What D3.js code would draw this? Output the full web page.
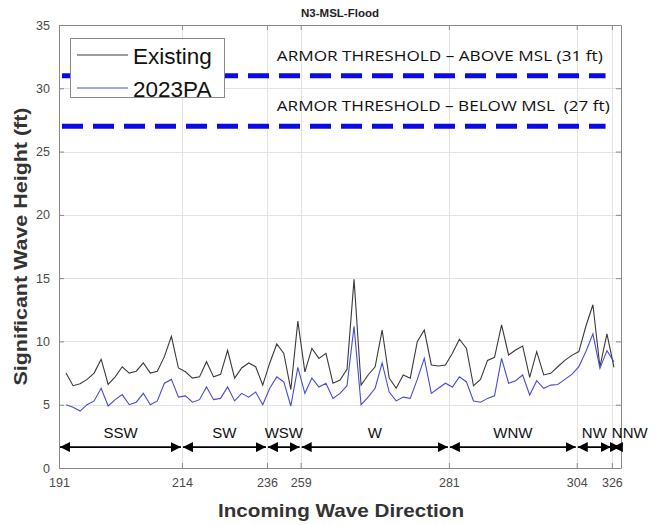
<!DOCTYPE html>
<html>
<head>
<meta charset="utf-8">
<script src="https://cdn.jsdelivr.net/npm/d3@7"></script>
<style>
  html, body { margin: 0; padding: 0; background: #fff; }
  svg { display: block; font-family: "Liberation Sans", Arial, sans-serif; }
</style>
</head>
<body>
<svg id="chart" width="655" height="525"></svg>
<script>
// Significant wave height per incoming-direction case (index 1..79)
const existing = [
  7.5, 6.5, 6.65, 7.0, 7.5, 8.6, 6.6, 7.2, 8.0, 7.5,
  7.65, 8.3, 7.5, 7.65, 8.8, 10.4, 7.9, 7.6, 7.1, 7.2,
  8.4, 7.2, 7.4, 9.3, 7.1, 7.9, 8.3, 8.0, 6.55, 8.3,
  9.8, 9.05, 6.2, 11.6, 7.6, 9.45, 8.66, 9.06, 6.7, 6.95,
  7.8, 14.9, 6.55, 7.35, 8.0, 10.9, 7.1, 6.3, 7.35, 7.1,
  9.98, 10.9, 8.14, 8.06, 8.14, 9.06, 10.17, 9.45, 6.5, 7.0,
  8.5, 8.74, 11.3, 8.93, 9.32, 9.64, 7.16, 9.19, 7.35, 7.48,
  8.0, 8.5, 8.9, 9.2, 11.2, 12.9, 8.0, 10.6, 7.95
];
const pa2023 = [
  5.0, 4.8, 4.5, 5.0, 5.3, 6.3, 4.9, 5.4, 5.8, 5.0,
  5.2, 5.9, 5.0, 5.3, 6.7, 7.0, 5.6, 5.7, 5.2, 5.4,
  6.4, 5.4, 5.5, 6.4, 5.3, 5.9, 5.6, 6.0, 5.0, 6.3,
  7.2, 6.8, 4.9, 7.95, 5.9, 7.1, 6.4, 6.7, 5.5, 5.9,
  6.5, 11.2, 5.0, 5.6, 6.3, 8.3, 6.0, 5.3, 5.6, 5.5,
  7.0, 8.66, 5.9, 6.3, 6.7, 6.4, 7.2, 6.8, 5.3, 5.2,
  5.5, 5.7, 8.66, 6.7, 6.9, 7.35, 5.77, 6.9, 6.3, 6.55,
  6.6, 7.0, 7.4, 8.0, 9.2, 10.6, 7.87, 9.27, 8.4
];

// Direction tick labels and the case index where each sits
const directionLabels = ["191", "214", "236", "259", "281", "304", "326"];
const directionIndex = [0, 17.5, 29.6, 34.4, 55.5, 73.7, 78.7];
const caseCount = 80;

// Compass sectors spanning consecutive direction ticks
const sectorNames = ["SSW", "SW", "WSW", "W", "WNW", "NW", "NNW"];

// Armor thresholds (ft)
const thresholds = [31, 27];
const thresholdLabels = [
  "ARMOR THRESHOLD \u2013 ABOVE MSL (31 ft)",
  "ARMOR THRESHOLD \u2013 BELOW MSL  (27 ft)"
];

const yTicks = [0, 5, 10, 15, 20, 25, 30, 35];

const svg = d3.select("#chart");
const plotL = 59, plotR = 621, plotT = 25, plotB = 468;

const x = d3.scaleLinear().domain([0, caseCount]).range([plotL, plotR]);
const y = d3.scaleLinear().domain([0, 35]).range([plotB, plotT]);

// Grid
const grid = svg.append("g").attr("stroke", "#e3e3e3").attr("stroke-width", 1);
grid.selectAll(".gy").data(yTicks.slice(1, -1)).join("line")
  .attr("x1", plotL).attr("x2", plotR)
  .attr("y1", d => Math.round(y(d)) + 0.5).attr("y2", d => Math.round(y(d)) + 0.5);
grid.selectAll(".gx").data(directionIndex.slice(1)).join("line")
  .attr("y1", plotT).attr("y2", plotB)
  .attr("x1", d => Math.round(x(d)) + 0.5).attr("x2", d => Math.round(x(d)) + 0.5);

// Axes (inward ticks, closed box)
const yAxis = d3.axisLeft(y).tickValues(yTicks).tickSizeInner(-5).tickSizeOuter(0).tickPadding(9);
const gy = svg.append("g").attr("transform", `translate(${plotL},0)`).call(yAxis);
const yAxisR = d3.axisRight(y).tickValues(yTicks).tickSizeInner(-5).tickSizeOuter(0).tickFormat("");
const gyr = svg.append("g").attr("transform", `translate(${plotR},0)`).call(yAxisR);
const xAxis = d3.axisBottom(x).tickValues(directionIndex)
  .tickFormat((d, i) => directionLabels[i]).tickSizeInner(-5).tickSizeOuter(0).tickPadding(10);
const gx = svg.append("g").attr("transform", `translate(0,${plotB})`).call(xAxis);
const xAxisT = d3.axisTop(x).tickValues(directionIndex).tickFormat("").tickSizeInner(-5).tickSizeOuter(0);
const gxt = svg.append("g").attr("transform", `translate(0,${plotT})`).call(xAxisT);

[gy, gyr, gx, gxt].forEach(g => {
  g.select(".domain").attr("stroke", "#8a8a8a");
  g.selectAll(".tick line").attr("stroke", "#8a8a8a");
  g.selectAll(".tick text").attr("fill", "#4a4a4a").attr("font-size", 12.5)
    .attr("font-family", "'Liberation Sans', Arial, sans-serif");
});

// Threshold dashed lines
svg.append("g").selectAll("line").data(thresholds).join("line")
  .attr("x1", plotL).attr("x2", x(77.8))
  .attr("y1", d => y(d)).attr("y2", d => y(d))
  .attr("stroke", "#0a0ae6").attr("stroke-width", 5)
  .attr("stroke-dasharray", "21 10").attr("stroke-dashoffset", -3);

svg.append("g").selectAll("text").data(thresholds).join("text")
  .attr("x", x(31))
  .attr("y", d => y(d) - 15)
  .attr("font-family", "'Open Sans', 'Liberation Sans', sans-serif")
  .attr("font-size", 15)
  .attr("fill", "#111")
  .attr("textLength", (d, i) => i === 0 ? 326 : 333)
  .attr("lengthAdjust", "spacingAndGlyphs")
  .style("white-space", "pre")
  .text((d, i) => thresholdLabels[i]);

// Data lines
const lineGen = d3.line().x((d, i) => x(i + 1)).y(d => y(d));
svg.append("path").datum(existing).attr("d", lineGen)
  .attr("fill", "none").attr("stroke", "#3a3a3a").attr("stroke-width", 1.1);
svg.append("path").datum(pa2023).attr("d", lineGen)
  .attr("fill", "none").attr("stroke", "#4a4ad8").attr("stroke-width", 1.1);

// Sector arrows
const defs = svg.append("defs");
defs.append("marker").attr("id", "ah").attr("viewBox", "0 0 10 10")
  .attr("refX", 10).attr("refY", 5).attr("markerWidth", 10).attr("markerHeight", 10)
  .attr("markerUnits", "userSpaceOnUse").attr("orient", "auto-start-reverse")
  .append("path").attr("d", "M0,0 L10,5 L0,10 Z").attr("fill", "#000");

const sectorBounds = directionIndex.concat([caseCount]);
const arrowLevel = 1.65, sectorLabelLevel = 2.4;
const sectors = sectorNames.map((name, i) => ({ name, a: sectorBounds[i], b: sectorBounds[i + 1] }));

svg.append("g").selectAll("line").data(sectors).join("line")
  .attr("x1", d => x(d.a) + 1).attr("x2", d => x(d.b) - 1)
  .attr("y1", y(arrowLevel)).attr("y2", y(arrowLevel))
  .attr("stroke", "#000").attr("stroke-width", 1.6)
  .attr("marker-start", "url(#ah)").attr("marker-end", "url(#ah)");

svg.append("g").selectAll("text").data(sectors).join("text")
  .attr("x", d => d.name === "NNW" ? x(d.a) : (x(d.a) + x(d.b)) / 2)
  .attr("y", y(sectorLabelLevel))
  .attr("text-anchor", d => d.name === "NNW" ? "start" : "middle")
  .attr("font-family", "'Liberation Sans', Arial, sans-serif")
  .attr("font-size", 15).attr("fill", "#111")
  .text(d => d.name);

// Legend
const lg = svg.append("g");
lg.append("rect").attr("x", 70.5).attr("y", 38.5).attr("width", 154).attr("height", 59)
  .attr("fill", "#fff").attr("stroke", "#8a8a8a").attr("stroke-width", 1);
const legendItems = [
  { name: "Existing", color: "#3a3a3a" },
  { name: "2023PA", color: "#4a4ad8" }
];
legendItems.forEach((it, i) => {
  const cy = 55 + i * 33;
  lg.append("line").attr("x1", 77).attr("x2", 128).attr("y1", cy).attr("y2", cy)
    .attr("stroke", it.color).attr("stroke-width", 1.1);
  lg.append("text").attr("x", 133).attr("y", cy + 8.5)
    .attr("font-size", 22.5).attr("fill", "#111")
    .attr("font-family", "'Liberation Sans', Arial, sans-serif")
    .text(it.name);
});

// Title and axis labels
svg.append("text").attr("x", (plotL + plotR) / 2).attr("y", 17)
  .attr("text-anchor", "middle").attr("font-weight", "bold").attr("font-size", 11.5)
  .attr("fill", "#222").text("N3-MSL-Flood");

svg.append("text").attr("x", (plotL + plotR) / 2 + 1).attr("y", 517)
  .attr("text-anchor", "middle").attr("font-weight", "bold").attr("font-size", 19)
  .attr("fill", "#333").attr("textLength", 246).attr("lengthAdjust", "spacingAndGlyphs")
  .text("Incoming Wave Direction");

svg.append("text")
  .attr("transform", `translate(27,${(plotT + plotB) / 2}) rotate(-90)`)
  .attr("text-anchor", "middle").attr("font-weight", "bold").attr("font-size", 19)
  .attr("fill", "#333").attr("textLength", 278).attr("lengthAdjust", "spacingAndGlyphs")
  .text("Significant Wave Height (ft)");
</script>
</body>
</html>
